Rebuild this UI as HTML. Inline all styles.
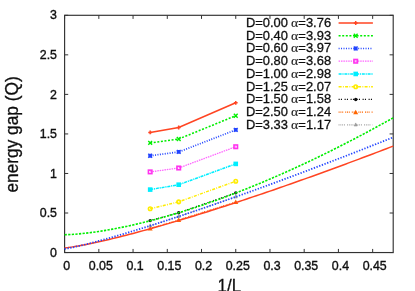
<!DOCTYPE html>
<html><head><meta charset="utf-8"><title>energy gap</title>
<style>html,body{margin:0;padding:0;background:#fff;}body{width:415px;height:291px;overflow:hidden;font-family:"Liberation Sans", sans-serif;}</style>
</head><body>
<svg width="415" height="291" viewBox="0 0 415 291" style="display:block">
<rect width="415" height="291" fill="#fff"/>
<defs><filter id="b" x="0" y="0" width="415" height="291" filterUnits="userSpaceOnUse"><feGaussianBlur stdDeviation="0.3"/></filter></defs><g filter="url(#b)">
<style>text{font-family:"Liberation Sans",sans-serif;stroke:#111;stroke-width:.3px;paint-order:stroke}text.tk{stroke-width:.38px}text.al{font-family:"Liberation Serif",serif;stroke:#333;stroke-width:.12px}</style>
<rect x="64.6" y="15.3" width="328.60" height="237.25" fill="none" stroke="#333" stroke-width="1.15"/>
<path d="M64.60 252.55V248.95000000000002M64.60 15.3V18.900000000000002M98.83 252.55V248.95000000000002M98.83 15.3V18.900000000000002M133.06 252.55V248.95000000000002M133.06 15.3V18.900000000000002M167.29 252.55V248.95000000000002M167.29 15.3V18.900000000000002M201.52 252.55V248.95000000000002M201.52 15.3V18.900000000000002M235.75 252.55V248.95000000000002M235.75 15.3V18.900000000000002M269.98 252.55V248.95000000000002M269.98 15.3V18.900000000000002M304.20 252.55V248.95000000000002M304.20 15.3V18.900000000000002M338.43 252.55V248.95000000000002M338.43 15.3V18.900000000000002M372.66 252.55V248.95000000000002M372.66 15.3V18.900000000000002M64.6 252.55H68.19999999999999M393.2 252.55H389.59999999999997M64.6 213.01H68.19999999999999M393.2 213.01H389.59999999999997M64.6 173.47H68.19999999999999M393.2 173.47H389.59999999999997M64.6 133.93H68.19999999999999M393.2 133.93H389.59999999999997M64.6 94.38H68.19999999999999M393.2 94.38H389.59999999999997M64.6 54.84H68.19999999999999M393.2 54.84H389.59999999999997M64.6 15.30H68.19999999999999M393.2 15.30H389.59999999999997" stroke="#333" stroke-width="1" fill="none"/>
<text transform="translate(66.60 270.2) scale(0.96 1)" font-size="12.9" text-anchor="middle" fill="#111" class="tk">0</text>
<text transform="translate(100.83 270.2) scale(0.96 1)" font-size="12.9" text-anchor="middle" fill="#111" class="tk">0.05</text>
<text transform="translate(135.06 270.2) scale(0.96 1)" font-size="12.9" text-anchor="middle" fill="#111" class="tk">0.1</text>
<text transform="translate(169.29 270.2) scale(0.96 1)" font-size="12.9" text-anchor="middle" fill="#111" class="tk">0.15</text>
<text transform="translate(203.52 270.2) scale(0.96 1)" font-size="12.9" text-anchor="middle" fill="#111" class="tk">0.2</text>
<text transform="translate(237.75 270.2) scale(0.96 1)" font-size="12.9" text-anchor="middle" fill="#111" class="tk">0.25</text>
<text transform="translate(271.98 270.2) scale(0.96 1)" font-size="12.9" text-anchor="middle" fill="#111" class="tk">0.3</text>
<text transform="translate(306.20 270.2) scale(0.96 1)" font-size="12.9" text-anchor="middle" fill="#111" class="tk">0.35</text>
<text transform="translate(340.43 270.2) scale(0.96 1)" font-size="12.9" text-anchor="middle" fill="#111" class="tk">0.4</text>
<text transform="translate(374.66 270.2) scale(0.96 1)" font-size="12.9" text-anchor="middle" fill="#111" class="tk">0.45</text>
<text transform="translate(57.0 256.70) scale(0.96 1)" font-size="12.9" text-anchor="end" fill="#111" class="tk">0</text>
<text transform="translate(57.0 217.16) scale(0.96 1)" font-size="12.9" text-anchor="end" fill="#111" class="tk">0.5</text>
<text transform="translate(57.0 177.62) scale(0.96 1)" font-size="12.9" text-anchor="end" fill="#111" class="tk">1</text>
<text transform="translate(57.0 138.08) scale(0.96 1)" font-size="12.9" text-anchor="end" fill="#111" class="tk">1.5</text>
<text transform="translate(57.0 98.53) scale(0.96 1)" font-size="12.9" text-anchor="end" fill="#111" class="tk">2</text>
<text transform="translate(57.0 58.99) scale(0.96 1)" font-size="12.9" text-anchor="end" fill="#111" class="tk">2.5</text>
<text transform="translate(57.0 19.45) scale(0.96 1)" font-size="12.9" text-anchor="end" fill="#111" class="tk">3</text>
<text transform="translate(229.3 291.6) scale(0.925 1)" font-size="18.3" text-anchor="middle" fill="#111">1/L</text>
<text transform="translate(18.2 134.4) scale(1.06 1) rotate(-90)" font-size="17.3" text-anchor="middle" fill="#111">energy gap (Q)</text>
<polyline points="150.17,132.42 178.70,127.52 235.75,102.85" fill="none" stroke="#ff4422" stroke-width="1.6"/>
<path d="M148.27 132.42H152.07M150.17 130.52V134.32" stroke="#ff4422" stroke-width="1.5" fill="none"/>
<path d="M176.80 127.52H180.60M178.70 125.62V129.42" stroke="#ff4422" stroke-width="1.5" fill="none"/>
<path d="M233.85 102.85H237.65M235.75 100.95V104.75" stroke="#ff4422" stroke-width="1.5" fill="none"/>
<polyline points="150.17,142.94 178.70,138.99 235.75,115.74" fill="none" stroke="#00ee00" stroke-width="1.6" stroke-dasharray="2.0 1.6"/>
<path d="M148.27 141.04L152.07 144.84M148.27 144.84L152.07 141.04" stroke="#00ee00" stroke-width="1.4" fill="none"/>
<path d="M176.80 137.09L180.60 140.89M176.80 140.89L180.60 137.09" stroke="#00ee00" stroke-width="1.4" fill="none"/>
<path d="M233.85 113.84L237.65 117.64M233.85 117.64L237.65 113.84" stroke="#00ee00" stroke-width="1.4" fill="none"/>
<polyline points="150.17,155.75 178.70,151.96 235.75,129.89" fill="none" stroke="#2244ff" stroke-width="1.7" stroke-dasharray="1.0 1.45"/>
<path d="M148.27 155.75H152.07M150.17 153.85V157.65M148.27 153.85L152.07 157.65M148.27 157.65L152.07 153.85" stroke="#2244ff" stroke-width="1.4" fill="none"/>
<path d="M176.80 151.96H180.60M178.70 150.06V153.86M176.80 150.06L180.60 153.86M176.80 153.86L180.60 150.06" stroke="#2244ff" stroke-width="1.4" fill="none"/>
<path d="M233.85 129.89H237.65M235.75 127.99V131.79M233.85 127.99L237.65 131.79M233.85 131.79L237.65 127.99" stroke="#2244ff" stroke-width="1.4" fill="none"/>
<polyline points="150.17,171.89 178.70,168.01 235.75,146.74" fill="none" stroke="#ff66ff" stroke-width="1.3" stroke-dasharray="1.5 0.9"/>
<rect x="148.42" y="170.14" width="3.5" height="3.5" stroke="#ff33ee" stroke-width="1.6" fill="none"/>
<rect x="176.95" y="166.26" width="3.5" height="3.5" stroke="#ff33ee" stroke-width="1.6" fill="none"/>
<rect x="234.00" y="144.99" width="3.5" height="3.5" stroke="#ff33ee" stroke-width="1.6" fill="none"/>
<polyline points="150.17,189.60 178.70,184.70 235.75,163.90" fill="none" stroke="#00eeff" stroke-width="1.5" stroke-dasharray="3 .8 1.2 .8"/>
<rect x="147.87" y="187.30" width="4.6" height="4.6" fill="#00eeff"/>
<rect x="176.40" y="182.40" width="4.6" height="4.6" fill="#00eeff"/>
<rect x="233.45" y="161.60" width="4.6" height="4.6" fill="#00eeff"/>
<polyline points="150.17,208.74 178.70,201.86 235.75,181.22" fill="none" stroke="#ffec00" stroke-width="1.45" stroke-dasharray="3 1.3 .9 1.3"/>
<circle cx="150.17" cy="208.74" r="1.75" stroke="#ffec00" stroke-width="1.6" fill="none"/>
<circle cx="178.70" cy="201.86" r="1.75" stroke="#ffec00" stroke-width="1.6" fill="none"/>
<circle cx="235.75" cy="181.22" r="1.75" stroke="#ffec00" stroke-width="1.6" fill="none"/>
<polyline points="150.17,220.60 178.70,212.77 235.75,192.84" fill="none" stroke="#111111" stroke-width="1.3" stroke-dasharray="1.1 1.2 1.1 2.6"/>
<circle cx="150.17" cy="220.60" r="1.7" fill="#111111"/>
<circle cx="178.70" cy="212.77" r="1.7" fill="#111111"/>
<circle cx="235.75" cy="192.84" r="1.7" fill="#111111"/>
<polyline points="150.17,228.51 178.70,219.97 235.75,202.02" fill="none" stroke="#ff6600" stroke-width="1.3" stroke-dasharray="1 .8 1 .8 1 2"/>
<path d="M150.17 226.01L152.67 230.61H147.67Z" fill="#ff6600"/>
<path d="M178.70 217.47L181.20 222.07H176.20Z" fill="#ff6600"/>
<path d="M235.75 199.52L238.25 204.12H233.25Z" fill="#ff6600"/>
<polyline points="150.17,225.74 178.70,216.49 235.75,196.88" fill="none" stroke="#888888" stroke-width="1.0" stroke-dasharray=".9 .9 .9 .9 .9 .9 .9 2.2"/>
<path d="M150.17 223.74L151.77 226.84H148.57Z" fill="#888888" fill-opacity=".7" stroke="#888888" stroke-width=".5"/>
<path d="M178.70 214.49L180.30 217.59H177.10Z" fill="#888888" fill-opacity=".7" stroke="#888888" stroke-width=".5"/>
<path d="M235.75 194.88L237.35 197.98H234.15Z" fill="#888888" fill-opacity=".7" stroke="#888888" stroke-width=".5"/>
<polyline points="64.60,247.96 68.02,247.61 71.45,247.13 74.87,246.58 78.29,245.98 81.71,245.35 85.14,244.69 88.56,244.00 91.98,243.29 95.41,242.55 98.83,241.80 102.25,241.02 105.67,240.23 109.10,239.43 112.52,238.61 115.94,237.77 119.37,236.92 122.79,236.06 126.21,235.18 129.64,234.30 133.06,233.40 136.48,232.49 139.90,231.57 143.33,230.65 146.75,229.71 150.17,228.76 153.60,227.80 157.02,226.84 160.44,225.86 163.86,224.88 167.29,223.89 170.71,222.89 174.13,221.88 177.56,220.87 180.98,219.84 184.40,218.82 187.83,217.78 191.25,216.74 194.67,215.69 198.09,214.63 201.52,213.57 204.94,212.50 208.36,211.42 211.79,210.34 215.21,209.25 218.63,208.16 222.05,207.06 225.48,205.95 228.90,204.84 232.32,203.72 235.75,202.60 239.17,201.47 242.59,200.34 246.01,199.20 249.44,198.06 252.86,196.91 256.28,195.76 259.71,194.60 263.13,193.44 266.55,192.27 269.98,191.10 273.40,189.92 276.82,188.74 280.24,187.55 283.67,186.36 287.09,185.16 290.51,183.96 293.94,182.76 297.36,181.55 300.78,180.33 304.20,179.12 307.63,177.90 311.05,176.67 314.47,175.44 317.90,174.21 321.32,172.97 324.74,171.73 328.16,170.48 331.59,169.23 335.01,167.98 338.43,166.72 341.86,165.46 345.28,164.19 348.70,162.92 352.12,161.65 355.55,160.38 358.97,159.10 362.39,157.81 365.82,156.53 369.24,155.24 372.66,153.94 376.09,152.65 379.51,151.35 382.93,150.04 386.35,148.73 389.78,147.42 393.20,146.11" fill="none" stroke="#ff4422" stroke-width="1.5"/>
<polyline points="64.60,234.72 68.02,234.63 71.45,234.46 74.87,234.23 78.29,233.95 81.71,233.62 85.14,233.25 88.56,232.85 91.98,232.41 95.41,231.94 98.83,231.44 102.25,230.90 105.67,230.34 109.10,229.75 112.52,229.13 115.94,228.49 119.37,227.82 122.79,227.13 126.21,226.41 129.64,225.67 133.06,224.91 136.48,224.12 139.90,223.32 143.33,222.49 146.75,221.63 150.17,220.76 153.60,219.87 157.02,218.96 160.44,218.03 163.86,217.08 167.29,216.10 170.71,215.12 174.13,214.11 177.56,213.08 180.98,212.03 184.40,210.97 187.83,209.89 191.25,208.79 194.67,207.68 198.09,206.54 201.52,205.39 204.94,204.23 208.36,203.04 211.79,201.85 215.21,200.63 218.63,199.40 222.05,198.15 225.48,196.89 228.90,195.61 232.32,194.31 235.75,193.00 239.17,191.67 242.59,190.33 246.01,188.98 249.44,187.61 252.86,186.22 256.28,184.82 259.71,183.40 263.13,181.97 266.55,180.53 269.98,179.07 273.40,177.60 276.82,176.11 280.24,174.61 283.67,173.10 287.09,171.57 290.51,170.03 293.94,168.47 297.36,166.91 300.78,165.32 304.20,163.73 307.63,162.12 311.05,160.50 314.47,158.86 317.90,157.21 321.32,155.55 324.74,153.88 328.16,152.19 331.59,150.49 335.01,148.78 338.43,147.05 341.86,145.32 345.28,143.56 348.70,141.80 352.12,140.03 355.55,138.24 358.97,136.44 362.39,134.63 365.82,132.81 369.24,130.97 372.66,129.12 376.09,127.26 379.51,125.39 382.93,123.51 386.35,121.61 389.78,119.70 393.20,117.79" fill="none" stroke="#00ee00" stroke-width="1.6" stroke-dasharray="2.25 1.35"/>
<polyline points="64.60,248.83 68.02,248.30 71.45,247.63 74.87,246.90 78.29,246.13 81.71,245.32 85.14,244.48 88.56,243.62 91.98,242.74 95.41,241.84 98.83,240.93 102.25,239.99 105.67,239.04 109.10,238.08 112.52,237.11 115.94,236.12 119.37,235.13 122.79,234.12 126.21,233.10 129.64,232.08 133.06,231.04 136.48,229.99 139.90,228.94 143.33,227.88 146.75,226.81 150.17,225.73 153.60,224.65 157.02,223.55 160.44,222.46 163.86,221.35 167.29,220.24 170.71,219.12 174.13,217.99 177.56,216.86 180.98,215.73 184.40,214.59 187.83,213.44 191.25,212.29 194.67,211.13 198.09,209.96 201.52,208.79 204.94,207.62 208.36,206.44 211.79,205.26 215.21,204.07 218.63,202.88 222.05,201.68 225.48,200.48 228.90,199.27 232.32,198.06 235.75,196.85 239.17,195.63 242.59,194.41 246.01,193.18 249.44,191.95 252.86,190.72 256.28,189.48 259.71,188.24 263.13,186.99 266.55,185.74 269.98,184.49 273.40,183.23 276.82,181.97 280.24,180.71 283.67,179.44 287.09,178.17 290.51,176.90 293.94,175.62 297.36,174.34 300.78,173.06 304.20,171.77 307.63,170.48 311.05,169.19 314.47,167.90 317.90,166.60 321.32,165.29 324.74,163.99 328.16,162.68 331.59,161.37 335.01,160.06 338.43,158.74 341.86,157.42 345.28,156.10 348.70,154.78 352.12,153.45 355.55,152.12 358.97,150.79 362.39,149.45 365.82,148.11 369.24,146.77 372.66,145.43 376.09,144.09 379.51,142.74 382.93,141.39 386.35,140.03 389.78,138.68 393.20,137.32" fill="none" stroke="#2244ff" stroke-width="1.75" stroke-dasharray="1.3 1.55"/>
<text transform="translate(288.0 27.00) scale(1.034 1)" font-size="12.5" text-anchor="end" fill="#111">D=0.00</text>
<text transform="translate(291.0 27.00) scale(1.02 1)" font-size="13.5" fill="#222" class="al">α</text>
<text transform="translate(331.1 27.00) scale(1.035 1)" font-size="12.5" text-anchor="end" fill="#111">=3.76</text>
<path d="M338.6 23.00H372.9" fill="none" stroke="#ff4422" stroke-width="1.6"/>
<path d="M353.80 23.00H357.60M355.70 21.10V24.90" stroke="#ff4422" stroke-width="1.5" fill="none"/>
<text transform="translate(288.0 39.74) scale(1.034 1)" font-size="12.5" text-anchor="end" fill="#111">D=0.40</text>
<text transform="translate(291.0 39.74) scale(1.02 1)" font-size="13.5" fill="#222" class="al">α</text>
<text transform="translate(331.1 39.74) scale(1.035 1)" font-size="12.5" text-anchor="end" fill="#111">=3.93</text>
<path d="M338.6 35.74H372.9" fill="none" stroke="#00ee00" stroke-width="1.6" stroke-dasharray="2.0 1.6"/>
<path d="M353.80 33.84L357.60 37.64M353.80 37.64L357.60 33.84" stroke="#00ee00" stroke-width="1.4" fill="none"/>
<text transform="translate(288.0 52.48) scale(1.034 1)" font-size="12.5" text-anchor="end" fill="#111">D=0.60</text>
<text transform="translate(291.0 52.48) scale(1.02 1)" font-size="13.5" fill="#222" class="al">α</text>
<text transform="translate(331.1 52.48) scale(1.035 1)" font-size="12.5" text-anchor="end" fill="#111">=3.97</text>
<path d="M338.6 48.48H372.9" fill="none" stroke="#2244ff" stroke-width="1.7" stroke-dasharray="1.0 1.45"/>
<path d="M353.80 48.48H357.60M355.70 46.58V50.38M353.80 46.58L357.60 50.38M353.80 50.38L357.60 46.58" stroke="#2244ff" stroke-width="1.4" fill="none"/>
<text transform="translate(288.0 65.22) scale(1.034 1)" font-size="12.5" text-anchor="end" fill="#111">D=0.80</text>
<text transform="translate(291.0 65.22) scale(1.02 1)" font-size="13.5" fill="#222" class="al">α</text>
<text transform="translate(331.1 65.22) scale(1.035 1)" font-size="12.5" text-anchor="end" fill="#111">=3.68</text>
<path d="M338.6 61.22H372.9" fill="none" stroke="#ff66ff" stroke-width="1.3" stroke-dasharray="1.5 0.9"/>
<rect x="353.95" y="59.47" width="3.5" height="3.5" stroke="#ff33ee" stroke-width="1.6" fill="none"/>
<text transform="translate(288.0 77.96) scale(1.034 1)" font-size="12.5" text-anchor="end" fill="#111">D=1.00</text>
<text transform="translate(291.0 77.96) scale(1.02 1)" font-size="13.5" fill="#222" class="al">α</text>
<text transform="translate(331.1 77.96) scale(1.035 1)" font-size="12.5" text-anchor="end" fill="#111">=2.98</text>
<path d="M338.6 73.96H372.9" fill="none" stroke="#00eeff" stroke-width="1.5" stroke-dasharray="3 .8 1.2 .8"/>
<rect x="353.40" y="71.66" width="4.6" height="4.6" fill="#00eeff"/>
<text transform="translate(288.0 90.70) scale(1.034 1)" font-size="12.5" text-anchor="end" fill="#111">D=1.25</text>
<text transform="translate(291.0 90.70) scale(1.02 1)" font-size="13.5" fill="#222" class="al">α</text>
<text transform="translate(331.1 90.70) scale(1.035 1)" font-size="12.5" text-anchor="end" fill="#111">=2.07</text>
<path d="M338.6 86.70H372.9" fill="none" stroke="#ffec00" stroke-width="1.45" stroke-dasharray="3 1.3 .9 1.3"/>
<circle cx="355.70" cy="86.70" r="1.75" stroke="#ffec00" stroke-width="1.6" fill="none"/>
<text transform="translate(288.0 103.44) scale(1.034 1)" font-size="12.5" text-anchor="end" fill="#111">D=1.50</text>
<text transform="translate(291.0 103.44) scale(1.02 1)" font-size="13.5" fill="#222" class="al">α</text>
<text transform="translate(331.1 103.44) scale(1.035 1)" font-size="12.5" text-anchor="end" fill="#111">=1.58</text>
<path d="M338.6 99.44H372.9" fill="none" stroke="#111111" stroke-width="1.3" stroke-dasharray="1.1 1.2 1.1 2.6"/>
<circle cx="355.70" cy="99.44" r="1.7" fill="#111111"/>
<text transform="translate(288.0 116.18) scale(1.034 1)" font-size="12.5" text-anchor="end" fill="#111">D=2.50</text>
<text transform="translate(291.0 116.18) scale(1.02 1)" font-size="13.5" fill="#222" class="al">α</text>
<text transform="translate(331.1 116.18) scale(1.035 1)" font-size="12.5" text-anchor="end" fill="#111">=1.24</text>
<path d="M338.6 112.18H372.9" fill="none" stroke="#ff6600" stroke-width="1.3" stroke-dasharray="1 .8 1 .8 1 2"/>
<path d="M355.70 109.68L358.20 114.28H353.20Z" fill="#ff6600"/>
<text transform="translate(288.0 128.92) scale(1.034 1)" font-size="12.5" text-anchor="end" fill="#111">D=3.33</text>
<text transform="translate(291.0 128.92) scale(1.02 1)" font-size="13.5" fill="#222" class="al">α</text>
<text transform="translate(331.1 128.92) scale(1.035 1)" font-size="12.5" text-anchor="end" fill="#111">=1.17</text>
<path d="M338.6 124.92H372.9" fill="none" stroke="#888888" stroke-width="1.0" stroke-dasharray=".9 .9 .9 .9 .9 .9 .9 2.2"/>
<path d="M355.70 122.92L357.30 126.02H354.10Z" fill="#888888" fill-opacity=".7" stroke="#888888" stroke-width=".5"/>
</g></svg>
</body></html>
